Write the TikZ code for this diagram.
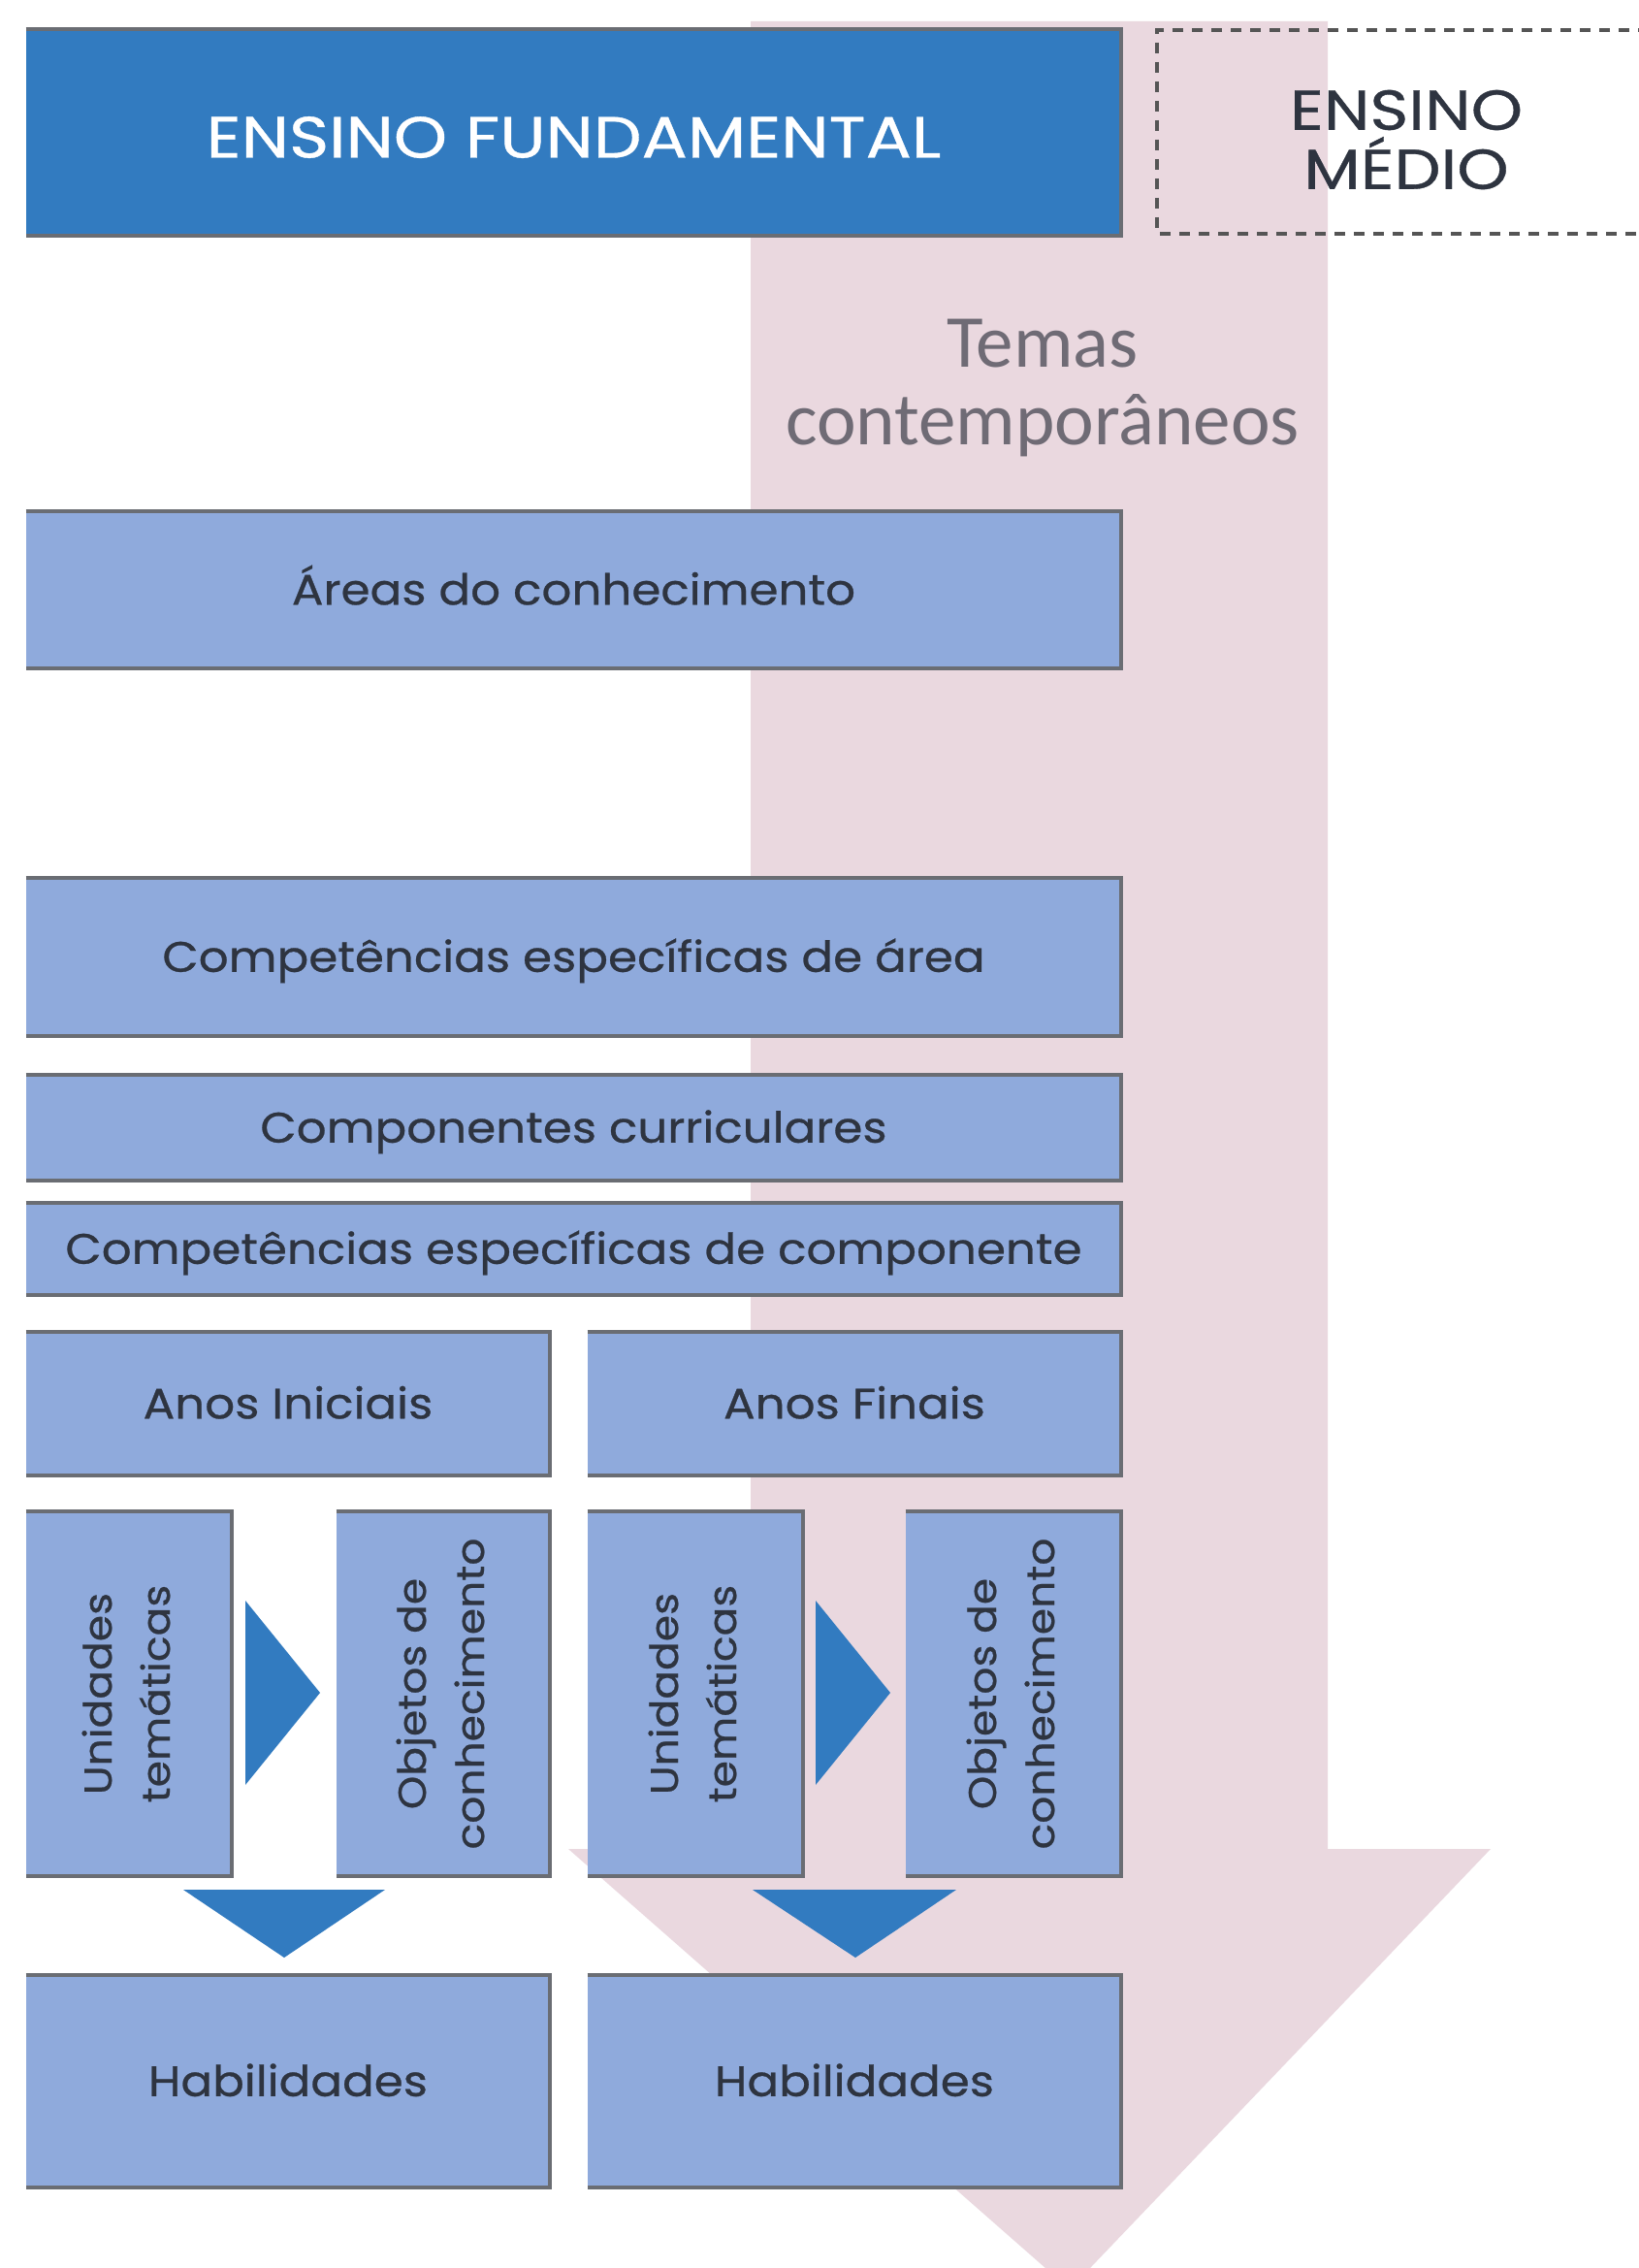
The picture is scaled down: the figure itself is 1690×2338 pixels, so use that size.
\documentclass[tikz,border=0pt]{standalone}
\usepackage{fontspec}
\setmainfont{Poppins}
\newfontfamily\calib{Carlito}
\newfontfamily\boxfont[FakeStretch=1.1,FakeBold=0.6]{Poppins}
\newfontfamily\capfont[FakeStretch=1.17,FakeBold=0.6]{Poppins}
\definecolor{pinkbg}{HTML}{EAD8DF}
\definecolor{boxfill}{HTML}{8FAADC}
\definecolor{boxline}{HTML}{6A6D73}
\definecolor{darkblue}{HTML}{327BC0}
\definecolor{txt}{HTML}{2E3440}
\definecolor{graytxt}{HTML}{6F6B75}
\definecolor{dashline}{HTML}{555555}
\newcommand{\vtextfont}{\boxfont\fontsize{20}{30}\selectfont}
\tikzset{
  boxbase/.style={fill=boxfill, draw=none, inner sep=0pt, text=txt, anchor=center},
  bluebox/.style={boxbase, font=\boxfont\fontsize{22}{26}\selectfont,
     text height=15.3pt, text depth=0pt},
  vbox/.style={boxbase},
  topbox/.style={fill=darkblue, draw=none, inner sep=0pt, text=white, anchor=center,
     font=\capfont\fontsize{30}{34}\selectfont, text height=21pt, text depth=0pt},
  border/.style={draw=boxline, line width=2pt, line join=miter},
  tri/.style={fill=darkblue, draw=none}
}
\begin{document}
\begin{tikzpicture}[x=0.5pt,y=-0.5pt]
\useasboundingbox (0,0) rectangle (1690,2338);
\fill[white] (0,0) rectangle (1690,2338);
% pink arrow
\fill[pinkbg] (774,22) -- (1369,22) -- (1369,1906) -- (1537,1906) -- (1103,2360) -- (586,1906) -- (774,1906) -- cycle;
% top boxes
\node[topbox, minimum width=564.5pt, minimum height=106.5pt] (ef) at (591.5,136.5) {\raisebox{-2.5pt}{ENSINO FUNDAMENTAL}};
\node[font=\capfont\fontsize{29}{30.5}\selectfont, text=txt, align=center, inner sep=0pt] (em) at (1450,144) {ENSINO\\MÉDIO};
\coordinate (emtr) at (1700,31);
\coordinate (embr) at (1700,241);
\draw[dashline, line width=1.6pt, dash pattern=on 5.5pt off 4.5pt] (emtr) -- (1193,31) -- (1193,241) -- (embr);
% temas
\node[font=\calib\fontsize{38.5}{40}\selectfont, text=graytxt, align=center, inner sep=0pt] (temas) at (1075,400) {Temas\\contemporâneos};
% blue boxes
\node[bluebox, minimum width=564.5pt, minimum height=81pt] (areas) at (591.5,608) {Áreas do conhecimento};
\node[bluebox, minimum width=564.5pt, minimum height=81.5pt] (cea) at (591.5,986.5) {Competências específicas de área};
\node[bluebox, minimum width=564.5pt, minimum height=54.5pt] (cc) at (591.5,1162.5) {Componentes curriculares};
\node[bluebox, minimum width=564.5pt, minimum height=47.5pt] (cec) at (591.5,1287.5) {Competências específicas de componente};
\node[bluebox, minimum width=270pt, minimum height=74pt] (ai) at (297,1447) {Anos Iniciais};
\node[bluebox, minimum width=275pt, minimum height=74pt] (af) at (881,1447) {Anos Finais};
\node[vbox, minimum width=106pt, minimum height=188pt] (ul) at (133,1746) {\rotatebox{90}{\vtextfont\begin{tabular}{@{}c@{}}Unidades\\temáticas\end{tabular}}};
\node[vbox, minimum width=110pt, minimum height=188pt] (ol) at (457,1746) {\rotatebox{90}{\vtextfont\begin{tabular}{@{}c@{}}Objetos de\\conhecimento\end{tabular}}};
\node[vbox, minimum width=111pt, minimum height=188pt] (ur) at (717,1746) {\rotatebox{90}{\vtextfont\begin{tabular}{@{}c@{}}Unidades\\temáticas\end{tabular}}};
\node[vbox, minimum width=111pt, minimum height=188pt] (or) at (1045,1746) {\rotatebox{90}{\vtextfont\begin{tabular}{@{}c@{}}Objetos de\\conhecimento\end{tabular}}};
\node[bluebox, minimum width=270pt, minimum height=109.5pt] (hl) at (297,2145.5) {Habilidades};
\node[bluebox, minimum width=275pt, minimum height=109.5pt] (hr) at (881,2145.5) {Habilidades};
\foreach \n in {ef,areas,cea,cc,cec,ai,af,ul,ol,ur,or,hl,hr}
  \draw[border] (\n.north west) -- (\n.north east) -- (\n.south east) -- (\n.south west);
% triangles
\fill[tri] (253,1650) -- (330,1745) -- (253,1840) -- cycle;
\fill[tri] (841,1650) -- (918,1745) -- (841,1840) -- cycle;
\fill[tri] (189,1948) -- (397,1948) -- (293,2018) -- cycle;
\fill[tri] (776,1948) -- (986,1948) -- (882,2018) -- cycle;
\end{tikzpicture}
\end{document}
